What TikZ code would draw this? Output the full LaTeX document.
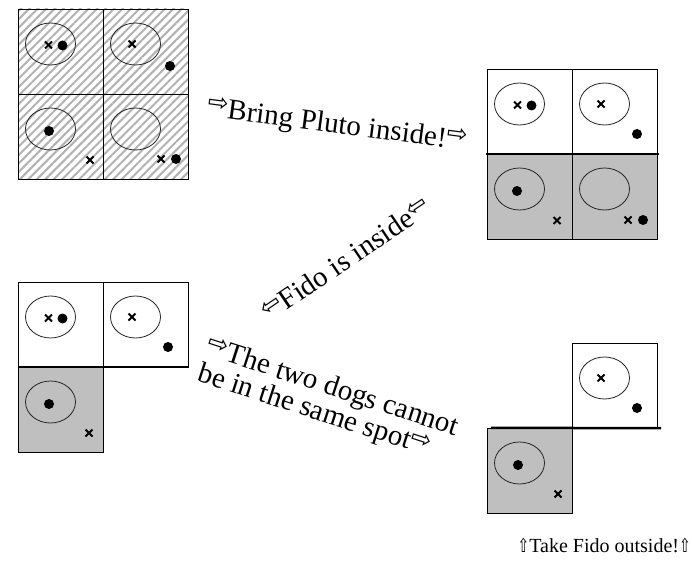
\documentclass[tikz,border=0pt]{standalone}
\usepackage{fontspec}
\setmainfont{Liberation Serif}
\newfontfamily\arrowfont{DejaVu Sans}
\usetikzlibrary{positioning, patterns.meta}

\newcommand{\rarr}{\raisebox{.22em}{\scalebox{.85}{\arrowfont ⇨}}}
\newcommand{\larr}{\raisebox{.22em}{\scalebox{.85}{\arrowfont ⇦}}}
\newcommand{\uarr}{\scalebox{.7}[.95]{\arrowfont ⇧}}

\begin{document}
\begin{tikzpicture}[x=1pt, y=-1pt, node distance = 85pt and 85pt, on grid, cell/.style={rectangle, draw, thin, minimum size=85pt, inner sep=0pt}, hatch/.style={cell, pattern={Lines[angle=45, distance=6pt, line width=2pt]}, pattern color=gray!60}, inside/.style={cell, fill=gray!50}, wall/.style={line width=2.5pt}, pen/.style={draw=black!85, line width=.8pt}, xmark/.style={line width=1.8pt}, words/.style={font=\fontsize{29}{26}\selectfont, inner sep=0pt}]
\useasboundingbox (0,0) rectangle (692,564);
% all four spots hatched
\node[hatch] (A1) at (60.5,51.5) {};
\node[hatch] (A2) [right = of A1] {};
\node[hatch] (A3) [below = of A1] {};
\node[hatch] (A4) [below = of A2] {};
% Pluto inside
\node[cell] (B1) at (529.5,111.5) {};
\node[cell] (B2) [right = of B1] {};
\node[inside] (B3) [below = of B1] {};
\node[inside] (B4) [below = of B2] {};
\draw[wall] ([xshift=-1pt]B3.north west) -- ([xshift=2pt]B4.north east);
% Fido inside
\node[cell] (C1) at (60.5,324.5) {};
\node[cell] (C2) [right = of C1] {};
\node[inside] (C3) [below = of C1] {};
\draw[wall] (C1.south west) -- (C2.south east);
% not the same spot
\node[inside] (D3) at (529.5,470.5) {};
\node[cell] (D2) [above right = of D3] {};
\draw[wall] ([xshift=4pt]D3.north west) -- ([xshift=4pt]D2.south east);
% pens, crosses and dots
\foreach \k/\xa/\xb/\da/\db in {A1/-12/-6.5/2/-6, A2/-13.5/-7.5/24.5/14.5, A3/29.5/23.5/-11.5/-5.5, A4/15.5/22.5/30.5/22.5, B1/-12/-6.5/2/-6, B2/-13.5/-7.5/22.5/22.5, B3/27.5/24/-12.5/-5.5, B4/13.5/23.5/28.5/23.5, C1/-12/-6.5/2/-6, C2/-13.5/-7.5/22.5/22.5, C3/28.5/23.5/-11.5/-5.5, D2/-13.5/-7.5/22.5/22.5, D3/28.5/23.5/-11.5/-5.5}
{
\draw[pen] ([shift={(-10,-7.5)}]\k.center) ellipse [x radius=25, y radius=21];
\draw[xmark] ([shift={(\xa,\xb)}]\k.center) +(-3.5,-3.5) -- +(3.5,3.5) +(-3.5,3.5) -- +(3.5,-3.5);
\fill ([shift={(\da,\db)}]\k.center) circle (5);
}
% captions
\node[words, rotate=-7.5] (pluto) at (337,126) {\rarr Bring Pluto inside!\rarr};
\node[words, rotate=34] (fidoin) at (346,259) {\larr Fido is inside\larr};
\node[words, rotate=-18, align=left, anchor=north west] (spot) at (211,335) {\rarr The two dogs cannot\\be in the same spot\rarr};
\node[font=\fontsize{20}{22}\selectfont, inner sep=0pt, anchor=base east] (fidoout) at (691,552) {\uarr Take Fido outside!\uarr};
\end{tikzpicture}
\end{document}
